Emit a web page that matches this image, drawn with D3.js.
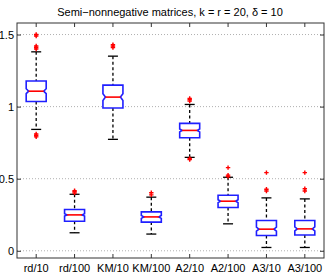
<!DOCTYPE html>
<html>
<head>
<meta charset="utf-8">
<script src="https://cdn.jsdelivr.net/npm/d3@7"></script>
<style>
  body { margin: 0; background: #fff; }
  svg { display: block; font-family: "Liberation Sans", Arial, sans-serif; }
</style>
</head>
<body>
<svg id="chart" width="327" height="274"></svg>
<script>
var categories = ["rd/10", "rd/100", "KM/10", "KM/100", "A2/10", "A2/100", "A3/10", "A3/100"];
var q1Values     = [1.036, 0.205, 0.990, 0.199, 0.784, 0.300, 0.106, 0.110];
var medianValues = [1.107, 0.249, 1.066, 0.235, 0.835, 0.344, 0.150, 0.152];
var q3Values     = [1.178, 0.286, 1.149, 0.270, 0.884, 0.385, 0.210, 0.210];
var lowWhisker   = [0.842, 0.125, 0.773, 0.116, 0.648, 0.187, 0.023, 0.023];
var highWhisker  = [1.380, 0.392, 1.350, 0.372, 1.015, 0.510, 0.367, 0.360];
var notchHalf    = [0.017, 0.008, 0.023, 0.010, 0.010, 0.010, 0.014, 0.014];
var outliers = [
  [1.50, 1.49, 1.42, 1.41, 1.40, 0.81, 0.80, 0.79],
  [0.417, 0.41, 0.40],
  [1.43, 1.42, 1.41],
  [0.403, 0.388],
  [1.057, 1.048, 1.038, 0.64, 0.632],
  [0.577, 0.525, 0.515],
  [0.542, 0.427, 0.415],
  [0.542, 0.43, 0.415]
];
var yTicks = [0, 0.5, 1, 1.5];
var title = "Semi\u2212nonnegative matrices, k = r = 20, \u03b4 = 10";

var svg = d3.select("#chart"),
    margin = {top: 23, right: 3, bottom: 16, left: 17},
    width = 327 - margin.left - margin.right,
    height = 274 - margin.top - margin.bottom,
    g = svg.append("g").attr("transform", "translate(" + margin.left + "," + margin.top + ")");

var xScale = d3.scaleBand().domain(categories).range([0, width]).padding(0),
    yScale = d3.scaleLinear().domain([-0.05, 1.58]).range([height, 0]);

var boxHalf = 10, capHalf = 5, notchIndent = 2.5;

// grid
g.selectAll(".grid")
  .data(yTicks)
  .enter().append("line")
    .attr("x1", 0).attr("x2", width)
    .attr("y1", function(d) { return yScale(d); })
    .attr("y2", function(d) { return yScale(d); })
    .attr("stroke", "#b0b0b0")
    .attr("stroke-width", 1)
    .attr("stroke-dasharray", "1,2");

// axes
var yAxis = d3.axisLeft(yScale).tickValues(yTicks).tickSize(-4).tickFormat(d3.format("~g"));
g.append("g").call(yAxis)
  .call(function(a) {
    a.select(".domain").remove();
    a.selectAll(".tick text").attr("x", -3).attr("font-size", 11).attr("fill", "#000");
  });
g.append("g").attr("transform", "translate(" + width + ",0)")
  .call(d3.axisRight(yScale).tickValues(yTicks).tickSize(-4).tickFormat(""))
  .select(".domain").remove();

var xAxis = d3.axisBottom(xScale).tickSize(-4);
g.append("g").attr("transform", "translate(0," + height + ")").call(xAxis)
  .call(function(a) {
    a.select(".domain").remove();
    a.selectAll(".tick text").attr("y", 6).attr("font-size", 11).attr("fill", "#000");
  });
g.append("g").call(d3.axisTop(xScale).tickSize(-4).tickFormat(""))
  .select(".domain").remove();

g.selectAll(".tick line").attr("stroke", "#333");

g.append("rect")
  .attr("width", width).attr("height", height)
  .attr("fill", "none").attr("stroke", "#333").attr("stroke-width", 1);

// boxes
var boxes = categories.map(function(c, i) {
  return {cat: c, q1: q1Values[i], med: medianValues[i], q3: q3Values[i],
          lo: lowWhisker[i], hi: highWhisker[i], notch: notchHalf[i], out: outliers[i]};
});

var box = g.selectAll(".box")
  .data(boxes)
  .enter().append("g")
    .attr("class", "box")
    .attr("transform", function(d) { return "translate(" + (xScale(d.cat) + xScale.bandwidth() / 2) + ",0)"; });

// whiskers
box.append("line")
  .attr("x1", 0).attr("x2", 0)
  .attr("y1", function(d) { return yScale(d.hi); })
  .attr("y2", function(d) { return yScale(d.q3); })
  .attr("stroke", "#000").attr("stroke-width", 1.3).attr("stroke-dasharray", "3,2.5");
box.append("line")
  .attr("x1", 0).attr("x2", 0)
  .attr("y1", function(d) { return yScale(d.q1); })
  .attr("y2", function(d) { return yScale(d.lo); })
  .attr("stroke", "#000").attr("stroke-width", 1.3).attr("stroke-dasharray", "3,2.5");
box.selectAll(".cap")
  .data(function(d) { return [d.hi, d.lo]; })
  .enter().append("line")
    .attr("x1", -capHalf).attr("x2", capHalf)
    .attr("y1", function(v) { return yScale(v); })
    .attr("y2", function(v) { return yScale(v); })
    .attr("stroke", "#000").attr("stroke-width", 1.3);

// notched box
box.append("path")
  .attr("d", function(d) {
    var t = yScale(d.q3), b = yScale(d.q1), m = yScale(d.med),
        nt = yScale(d.med + d.notch), nb = yScale(d.med - d.notch);
    return "M" + (-boxHalf) + "," + t + "L" + boxHalf + "," + t +
      "L" + boxHalf + "," + nt + "L" + (boxHalf - notchIndent) + "," + m +
      "L" + boxHalf + "," + nb + "L" + boxHalf + "," + b +
      "L" + (-boxHalf) + "," + b + "L" + (-boxHalf) + "," + nb +
      "L" + (-boxHalf + notchIndent) + "," + m + "L" + (-boxHalf) + "," + nt + "Z";
  })
  .attr("fill", "#fff").attr("stroke", "#1f1fff").attr("stroke-width", 1.6);

box.append("line")
  .attr("x1", -boxHalf + notchIndent).attr("x2", boxHalf - notchIndent)
  .attr("y1", function(d) { return yScale(d.med); })
  .attr("y2", function(d) { return yScale(d.med); })
  .attr("stroke", "#ff0000").attr("stroke-width", 1.6);

// outliers
box.selectAll(".out")
  .data(function(d) { return d.out; })
  .enter().append("path")
    .attr("d", function(v) { var y = yScale(v); return "M-2.2," + y + "h4.4M0," + (y - 2.2) + "v4.4"; })
    .attr("stroke", "#ff0000").attr("stroke-width", 1.4).attr("fill", "none");

svg.append("text")
  .attr("x", 170).attr("y", 16)
  .attr("text-anchor", "middle")
  .attr("font-size", 11)
  .text(title);
</script>
</body>
</html>
